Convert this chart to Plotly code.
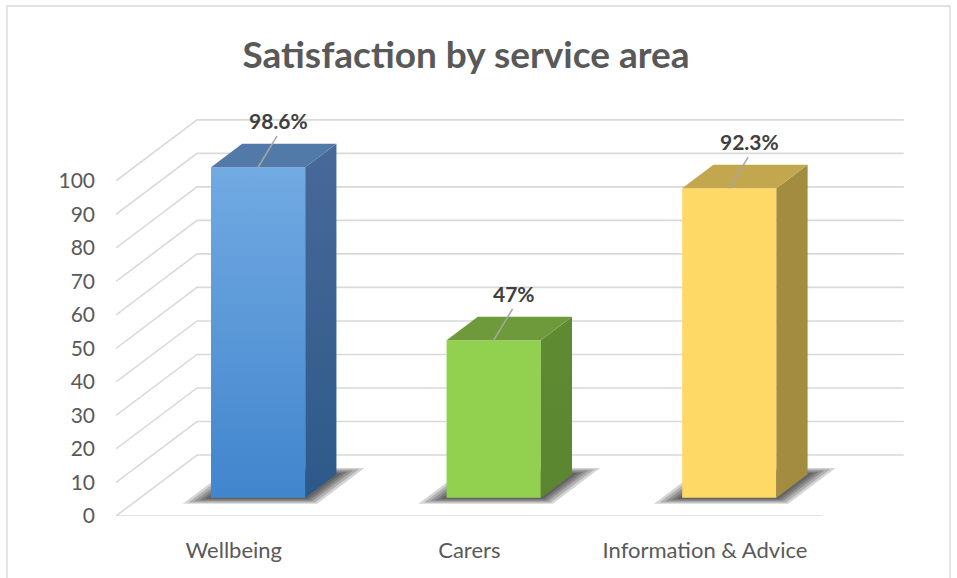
import plotly.graph_objects as go

# ---- data -------------------------------------------------------------
categories = ["Wellbeing", "Carers", "Information & Advice"]
satisfaction = [98.6, 47, 92.3]
value_labels = ["98.6%", "47%", "92.3%"]
y_ticks = [0, 10, 20, 30, 40, 50, 60, 70, 80, 90, 100]

# ---- bar colours (front gradient, top face, side gradient) -------------
front_top = ["#72aae2", "#92d050", "#ffd966"]
front_bottom = ["#4185cd", "#92d050", "#ffd966"]
top_face = ["#527aa8", "#6f9a3b", "#c3a74e"]
side_top = ["#48699a", "#5f8b33", "#a38b3f"]
side_bottom = ["#2c5a88", "#5a8630", "#a38b3f"]

GRID = "#d9d9d9"
FONT = "Lato"

# ---- oblique 3-D projection -----------------------------------------
DEPTH_X = 0.344   # shift in category units for full depth
DEPTH_Y = 18.2    # shift in value units for full depth
BAR_HALF = 0.2
Z0, Z1 = 0.30, 0.685


def proj(u, v, z):
    return u + z * DEPTH_X, v + z * DEPTH_Y


def poly(points):
    xs = [p[0] for p in points] + [points[0][0]]
    ys = [p[1] for p in points] + [points[0][1]]
    return xs, ys


fig = go.Figure()

# ---- walls / floor gridlines ------------------------------------------
gx, gy = [], []
n = len(categories)
for t in y_ticks:
    a = proj(-0.5, t, 0)
    b = proj(-0.5, t, 1)
    c = proj(n - 0.5, t, 1)
    gx += [a[0], b[0], c[0], None]
    gy += [a[1], b[1], c[1], None]
f0 = proj(-0.5, 0, 0)
f1 = proj(n - 0.5, 0, 0)
gx += [f0[0], f1[0], None]
gy += [f0[1], f1[1], None]
fig.add_trace(go.Scatter(x=gx, y=gy, mode="lines",
                         line=dict(color=GRID, width=1.6),
                         hoverinfo="skip", showlegend=False))

# ---- soft floor shadows (stacked translucent footprints) ---------------
for i, v in enumerate(satisfaction):
    for e, ez in [(0.085, 0.10), (0.068, 0.08), (0.05, 0.06),
                  (0.034, 0.04), (0.018, 0.02)]:
        pts = [proj(i - BAR_HALF - e, 0, Z0 - ez),
               proj(i + BAR_HALF + e, 0, Z0 - ez),
               proj(i + BAR_HALF + e, 0, Z1 + ez),
               proj(i - BAR_HALF - e, 0, Z1 + ez)]
        xs, ys = poly(pts)
        fig.add_trace(go.Scatter(x=xs, y=ys, mode="lines", fill="toself",
                                 fillcolor="rgba(0,0,0,0.17)",
                                 line=dict(width=0), hoverinfo="skip",
                                 showlegend=False))

# ---- 3-D columns -------------------------------------------------------
for i, v in enumerate(satisfaction):
    l, r = i - BAR_HALF, i + BAR_HALF
    # front face
    xs, ys = poly([proj(l, 0, Z0), proj(r, 0, Z0), proj(r, v, Z0), proj(l, v, Z0)])
    y_lo, y_hi = proj(0, 0, Z0)[1], proj(0, v, Z0)[1]
    fig.add_trace(go.Scatter(
        x=xs, y=ys, mode="lines", fill="toself", line=dict(width=0),
        fillgradient=dict(type="vertical", start=y_lo, stop=y_hi,
                          colorscale=[[0, front_bottom[i]], [1, front_top[i]]]),
        hoverinfo="skip", showlegend=False))
    # side face
    xs, ys = poly([proj(r, 0, Z0), proj(r, v, Z0), proj(r, v, Z1), proj(r, 0, Z1)])
    fig.add_trace(go.Scatter(
        x=xs, y=ys, mode="lines", fill="toself", line=dict(width=0),
        fillgradient=dict(type="vertical", start=y_lo, stop=proj(0, v, Z1)[1],
                          colorscale=[[0, side_bottom[i]], [1, side_top[i]]]),
        hoverinfo="skip", showlegend=False))
    # top face
    xs, ys = poly([proj(l, v, Z0), proj(r, v, Z0), proj(r, v, Z1), proj(l, v, Z1)])
    fig.add_trace(go.Scatter(x=xs, y=ys, mode="lines", fill="toself",
                             fillcolor=top_face[i], line=dict(width=0),
                             hoverinfo="skip", showlegend=False))

# ---- data labels with leader lines -------------------------------------
lx, ly = [], []
for i, (v, txt) in enumerate(zip(satisfaction, value_labels)):
    px_, py_ = proj(i, v, Z0)
    lx += [px_, px_ + 0.08, None]
    ly += [py_, py_ + 9.3, None]
    fig.add_annotation(x=px_ + 0.087, y=py_ + 14.0, text=f"<b>{txt}</b>",
                       showarrow=False, xanchor="center", yanchor="middle",
                       font=dict(family=FONT, size=21, color="#404040"))
fig.add_trace(go.Scatter(x=lx, y=ly, mode="lines",
                         line=dict(color="#a6a6a6", width=1.5),
                         hoverinfo="skip", showlegend=False))

# ---- chart border ------------------------------------------------------
L, T, PW, PH = 116, 87, 801, 429
fig.add_shape(type="rect", xref="paper", yref="paper",
              x0=(7 - L) / PW, x1=(950 - L) / PW,
              y0=(T + PH - 590) / PH, y1=(T + PH - 6) / PH,
              line=dict(color=GRID, width=1.3), fillcolor="rgba(0,0,0,0)")

fig.update_layout(
    width=957, height=578,
    margin=dict(l=L, r=957 - L - PW, t=T, b=578 - T - PH),
    paper_bgcolor="white", plot_bgcolor="white",
    title=dict(text="<b>Satisfaction by service area</b>",
               x=466 / 957, xanchor="center", y=1 - 55 / 578, yanchor="middle",
               font=dict(family=FONT, size=37, color="#595959")),
    xaxis=dict(range=[-0.5, 2.9], tickvals=list(range(n)), ticktext=categories,
               showgrid=False, zeroline=False, showline=False, ticks="",
               ticklabelstandoff=19,
               tickfont=dict(family=FONT, size=22, color="#595959")),
    yaxis=dict(range=[0, 128], tickvals=y_ticks, showgrid=False,
               zeroline=False, showline=False, ticks="",
               ticklabelstandoff=20,
               tickfont=dict(family=FONT, size=21, color="#595959")),
)

fig.write_html("out.html")
